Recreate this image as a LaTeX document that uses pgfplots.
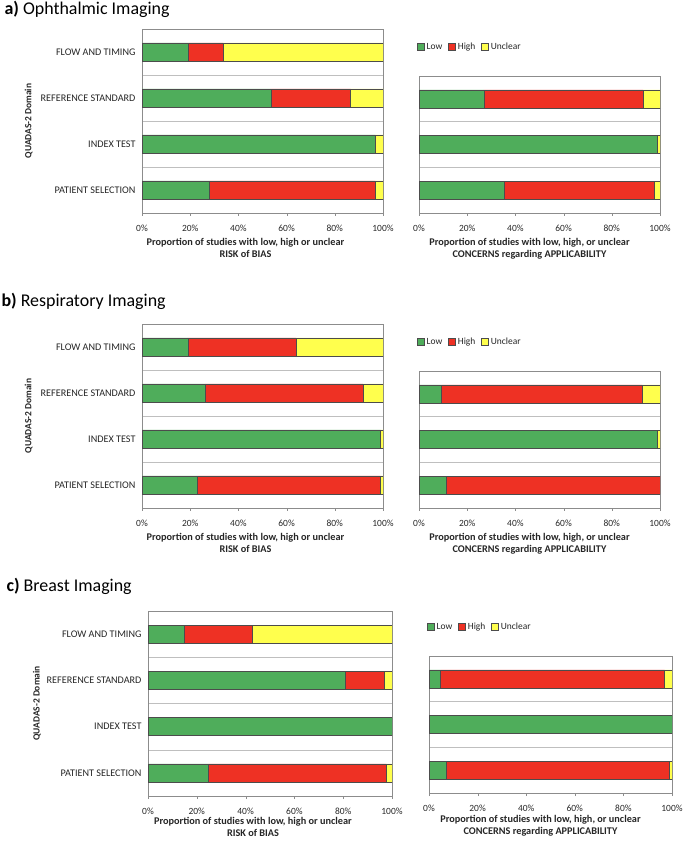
\documentclass[border=0pt]{standalone}
\usepackage{fontspec}
\setmainfont{Carlito}
\usepackage{pgfplots}
\pgfplotsset{compat=1.18}

\definecolor{qlow}{HTML}{4FAD5B}
\definecolor{qhigh}{HTML}{EE3124}
\definecolor{qunc}{HTML}{FFFF4D}

\pgfplotsset{
  quadas/.style={
    xbar stacked, scale only axis,
    xmin=0, xmax=100,
    xtick={0,20,40,60,80,100},
    xticklabels={0\%,20\%,40\%,60\%,80\%,100\%},
    xtick pos=bottom, ytick pos=left,
    bar width=18bp,
    axis line style={black!45},
    tick align=outside,
    xtick style={black!45},
    major tick length=3bp, minor tick length=4bp,
    ytick style={draw=none},
    minor tick style={black!45},
    yminorgrids, minor grid style={black!25},
    xticklabel style={font=\fontsize{9.5}{11}\selectfont, text=black!85, yshift=-6bp},
    yticklabel style={font=\fontsize{10.2}{12}\selectfont, text=black!85},
    xlabel style={font=\bfseries\fontsize{10.3}{11.5}\selectfont, align=center, text=black!85,
      at={(axis description cs:0.5,0)}, anchor=north, yshift=-22bp},
    every axis plot/.append style={draw=black!70, line width=0.5pt},
  },
  riskaxis/.style={quadas, width=241bp, height=184bp,
    ymin=0.5, ymax=4.5, ytick={1,2,3,4},
    minor ytick={1.5,2.5,3.5},
    yticklabels={PATIENT SELECTION, INDEX TEST, REFERENCE STANDARD, FLOW AND TIMING},
    xlabel={Proportion of studies with low, high or unclear\\RISK of BIAS},
    xlabel style={xshift=-17bp},
    ylabel={QUADAS-2 Domain},
    ylabel style={font=\bfseries\fontsize{9.5}{11}\selectfont, at={(axis description cs:-0.47,0.5)}, anchor=center, text=black!85},
  },
  appaxis/.style={quadas, width=241bp, height=137bp,
    ymin=0.5, ymax=3.5, ytick={1,2,3}, yticklabels={},
    minor ytick={1.5,2.5},
    xlabel={Proportion of studies with low, high, or unclear\\CONCERNS regarding APPLICABILITY},
    xlabel style={xshift=-10bp},
    legend columns=3,
    legend style={draw=none, fill=none, at={(0,1)}, anchor=south west, xshift=-5bp, yshift=21bp,
      font=\fontsize{9.5}{11}\selectfont, text=black!85,
      /tikz/every even column/.append style={column sep=4bp}},
    legend image code/.code={\draw[#1, draw=black!70] (0bp,-3.5bp) rectangle (7bp,3.5bp);},
  },
}

\begin{document}
\begin{tikzpicture}
\useasboundingbox (0bp,0bp) rectangle (685bp,841bp);

% ---------------- a) Ophthalmic
\node[anchor=west, font=\fontsize{18}{20}\selectfont] at (1bp,832bp) {\textbf{a)} Ophthalmic Imaging};

\begin{axis}[riskaxis, at={(142bp,628bp)}, anchor=south west]
  \addplot[fill=qlow]  coordinates {(28.0,1) (96.8,2) (53.5,3) (19.3,4)};
  \addplot[fill=qhigh] coordinates {(68.8,1) (0,2) (33.1,3) (14.5,4)};
  \addplot[fill=qunc]  coordinates {(3.2,1) (3.2,2) (13.4,3) (66.2,4)};
\end{axis}

\begin{axis}[appaxis, at={(419bp,628bp)}, anchor=south west]
  \addplot[fill=qlow]  coordinates {(35.4,1) (98.8,2) (26.9,3)};
  \addplot[fill=qhigh] coordinates {(62.1,1) (0,2) (66.1,3)};
  \addplot[fill=qunc]  coordinates {(2.5,1) (1.2,2) (7.0,3)};
  \legend{Low,High,Unclear}
\end{axis}

% ---------------- b) Respiratory
\node[anchor=west, font=\fontsize{18}{20}\selectfont] at (-2bp,540bp) {\textbf{b)} Respiratory Imaging};

\begin{axis}[riskaxis, at={(142bp,333bp)}, anchor=south west]
  \addplot[fill=qlow]  coordinates {(22.8,1) (99.0,2) (26.2,3) (19.0,4)};
  \addplot[fill=qhigh] coordinates {(76.2,1) (0,2) (65.5,3) (44.9,4)};
  \addplot[fill=qunc]  coordinates {(1.0,1) (1.0,2) (8.3,3) (36.1,4)};
\end{axis}

\begin{axis}[appaxis, at={(419bp,333bp)}, anchor=south west]
  \addplot[fill=qlow]  coordinates {(11.2,1) (99.0,2) (9.4,3)};
  \addplot[fill=qhigh] coordinates {(88.8,1) (0,2) (83.3,3)};
  \addplot[fill=qunc]  coordinates {(0,1) (1.0,2) (7.3,3)};
  \legend{Low,High,Unclear}
\end{axis}

% ---------------- c) Breast
\node[anchor=west, font=\fontsize{18}{20}\selectfont] at (3bp,255bp) {\textbf{c)} Breast Imaging};

\begin{axis}[riskaxis, width=244bp, height=185bp, at={(148bp,45bp)}, anchor=south west,
    ylabel style={at={(axis description cs:-0.455,0.5)}}, xlabel style={yshift=4bp}]
  \addplot[fill=qlow]  coordinates {(24.7,1) (100,2) (80.8,3) (14.8,4)};
  \addplot[fill=qhigh] coordinates {(73.0,1) (0,2) (16.2,3) (28.1,4)};
  \addplot[fill=qunc]  coordinates {(2.3,1) (0,2) (3.0,3) (57.1,4)};
\end{axis}

\begin{axis}[appaxis, width=243bp, at={(429bp,48bp)}, anchor=south west, xlabel style={yshift=3bp}]
  \addplot[fill=qlow]  coordinates {(6.9,1) (100,2) (4.8,3)};
  \addplot[fill=qhigh] coordinates {(92.1,1) (0,2) (92.2,3)};
  \addplot[fill=qunc]  coordinates {(1.0,1) (0,2) (3.0,3)};
  \legend{Low,High,Unclear}
\end{axis}

\end{tikzpicture}
\end{document}
